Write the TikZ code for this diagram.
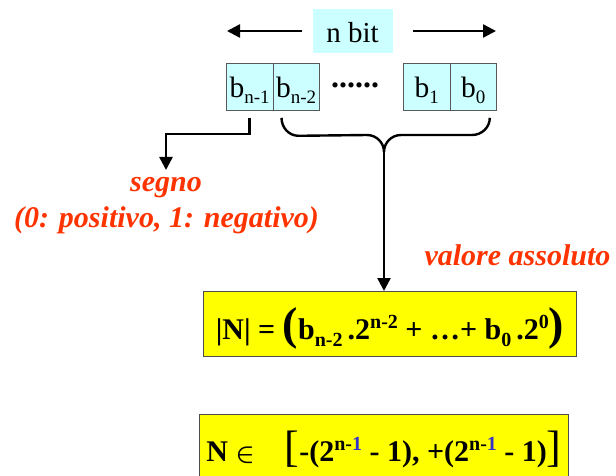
\documentclass[tikz,border=0pt]{standalone}
\usepackage{fontspec}
\setmainfont{Liberation Serif}[BoldItalicFont={Liberation Serif Bold Italic}]
\usetikzlibrary{arrows.meta}
\definecolor{cyanbox}{HTML}{CCFFFF}
\definecolor{ylw}{HTML}{FFFF00}
\definecolor{lbl}{HTML}{FF3300}
\definecolor{expblue}{HTML}{3333CC}
\newcommand\fs[1]{\fontsize{#1}{#1}\selectfont}
\newcommand\dn[3]{\raisebox{-#1pt}{\fs{#2}#3}}
\newcommand\up[3]{\raisebox{#1pt}{\fs{#2}#3}}
\begin{document}
\begin{tikzpicture}[x=1pt,y=-1pt,
  bitbox/.style={draw=gray!70!black, line width=0.8pt, fill=cyanbox, minimum width=46.5pt,
    inner sep=0pt, text height=34pt, text depth=13pt, font=\fs{29.5}},
  conn/.style={line width=2.4pt},
  arr/.style={conn, -{Triangle[length=13pt,width=13pt]}},
  lab/.style={text=lbl, font=\fs{30}\bfseries\itshape, inner sep=0pt},
  fbox/.style={draw=black!70, line width=1pt, fill=ylw, inner sep=0pt}]
\useasboundingbox (0,0) rectangle (616,476);

% n bit header
\node[fill=cyanbox, minimum width=80pt, minimum height=44pt, inner sep=0pt,
  text height=24pt, text depth=0pt, font=\fs{29}] (nbit) at (352.5,31) {n bit};
\coordinate (ltip) at (227,31);
\coordinate (rtip) at (496,31);
\draw[arr] ([xshift=-10pt]nbit.west) -- (ltip);
\draw[arr] ([xshift=20pt]nbit.east) -- (rtip);

% bit cells
\node[bitbox, anchor=north west] (bn1) at (226,63) {b\dn{6}{19}{n-1}};
\node[bitbox, anchor=north west] (bn2) at (272.5,63) {b\dn{6}{19}{n-2}};
\node[bitbox, anchor=north west] (b1) at (403,63) {b\dn{6}{19}{1}};
\node[bitbox, anchor=north west] (b0) at (449.5,63) {b\dn{6}{19}{0}};
\node[font=\fs{32}\bfseries, anchor=base, inner sep=0pt] (dots) at (355,88) {......};

% sign
\coordinate (sgntip) at (166,170);
\draw[arr] ([yshift=-7pt]bn1.south) -- ++(0,16) -| (sgntip);
\node[lab, anchor=base] (segno) at (166,191) {segno};
\node[lab, anchor=base] (segdesc) at (166.5,227) {(0: positivo, 1: negativo)};

% brace
\coordinate (cusp) at (384,152);
\draw[conn] ([shift={(9pt,-7pt)}]bn2.south west) to[out=-90,in=180] ++(17,18)
  -- (367,135) to[out=0,in=90] (cusp) to[out=90,in=180] (401,135) -- (472,135)
  to[out=0,in=-90] ([shift={(-7pt,-7pt)}]b0.south east);
\node[lab, anchor=base] (vass) at (517.5,265) {valore assoluto};

% formulas
\node[fbox, anchor=north west, minimum width=373pt, minimum height=65pt,
  text height=48pt, text depth=17pt] (f1) at (203,291)
  {\fs{30}\bfseries |N| = {\fs{46}(}b\dn{7}{20}{n-2}\,.2\up{11}{20}{n-2} + …+ b\dn{7}{20}{0}\,.2\up{11}{20}{0}{\fs{46})}};
\draw[arr] (cusp) -- (cusp |- f1.north);

\node[fbox, anchor=north west, minimum width=369pt, minimum height=66pt,
  text height=47pt, text depth=19pt] (f2) at (199,414)
  {\fs{30}\bfseries N {\boldmath$\in$}\quad{\fs{44}\mdseries[}-(2\up{11}{20}{n-\textcolor{expblue}{1}} - 1), +(2\up{11}{20}{n-\textcolor{expblue}{1}} - 1){\fs{44}\mdseries]}};
\end{tikzpicture}
\end{document}
